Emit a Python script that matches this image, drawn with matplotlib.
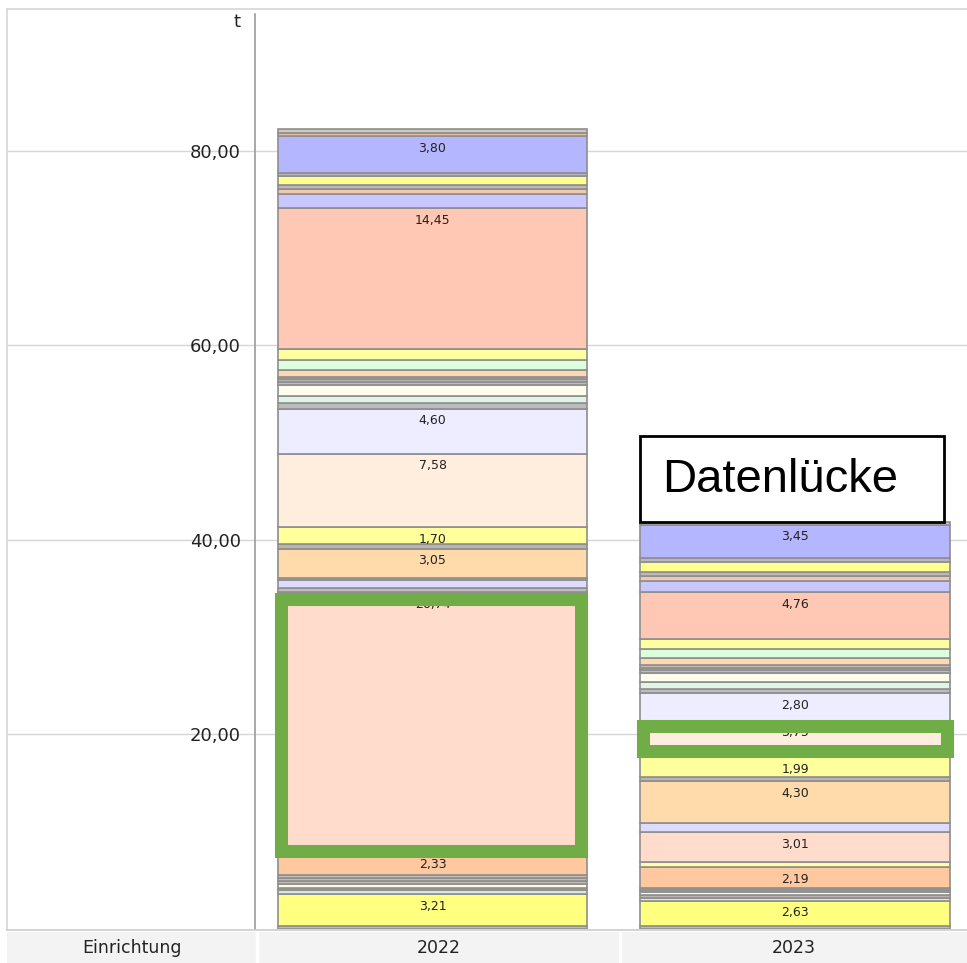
import matplotlib
matplotlib.use('Agg')
import matplotlib.pyplot as plt
from matplotlib.patches import Rectangle
from matplotlib.lines import Line2D
import numpy as np

# ---------------- data ----------------
years = ['2022', '2023']
row_header = 'Einrichtung'
unit_label = 't'
yticks = [20, 40, 60, 80]

# stacked segments, bottom -> top, same series order in both years
seg_colors = [
    '#cdb8a8', '#ffff80', '#d4eadc', '#bdb6b0', '#fffbe2', '#c4bcb4', '#bcbcbc', '#c8c0b8',
    '#ffc89e', '#ffffa8', '#ffdccc', '#c0bcc8', '#dcdcff', '#b8b8c0', '#ffdaaa', '#b8b4b0',
    '#ffff9c', '#ffeedd', '#ededff', '#bcbcbc', '#e0f4e8', '#fffdee', '#c0bcb8', '#b4b4b4',
    '#c4bcb4', '#ffd8b0', '#dcffdc', '#ffffa0', '#ffc8b4', '#c8c8ff', '#f0c8b0', '#c0b8b8',
    '#ffff90', '#b8b8c0', '#b4b6ff', '#e8c0a8', '#d0c8c0',
]
v2022 = [
    0.35, 3.21, 0.45, 0.25, 0.40, 0.30, 0.30, 0.30,
    2.33, 0.00, 26.74, 0.41, 0.82, 0.20, 3.05, 0.50,
    1.70, 7.58, 4.60, 0.60, 0.70, 1.17, 0.30, 0.25,
    0.25, 0.70, 1.05, 1.15, 14.45, 1.50, 0.45, 0.45,
    0.90, 0.30, 3.80, 0.35, 0.35,
]
v2023 = [
    0.30, 2.63, 0.30, 0.30, 0.30, 0.20, 0.15, 0.00,
    2.19, 0.55, 3.01, 0.00, 0.95, 0.00, 4.30, 0.50,
    1.99, 3.75, 2.80, 0.50, 0.70, 0.90, 0.30, 0.25,
    0.25, 0.70, 0.95, 1.10, 4.76, 1.13, 0.50, 0.43,
    1.03, 0.40, 3.45, 0.30, 0.00,
]
label_min = 1.6
# highlighted segments (year index, series index)
highlights = [(0, 10), (1, 17)]
gap_text = 'Datenlücke'

# ---------------- figure ----------------
W, H = 967, 963
fig = plt.figure(figsize=(W / 100, H / 100), dpi=100)

ax_left, ax_right, ax_top, ax_bot = 255, 967, 9, 929
ax = fig.add_axes([ax_left / W, (H - ax_bot) / H, (ax_right - ax_left) / W, (ax_bot - ax_top) / H])

bar_w = 0.853
xpos = np.arange(len(years))
ax.set_xlim(-0.4897, 1.4745)
ax.set_ylim(0, 94.6)

grid_c = '#d6d6d6'
ext = -(ax_left - 7) / (ax_right - ax_left)
for t in yticks:
    ax.axhline(t, xmin=ext, xmax=1, color=grid_c, lw=1, zorder=0, clip_on=False)
ax.axhline(94.6, xmin=ext, xmax=1, color=grid_c, lw=1.2, zorder=0, clip_on=False)

vals = [v2022, v2023]
bounds = {}
for yi, x in enumerate(xpos):
    cum = 0.0
    for si, (v, c) in enumerate(zip(vals[yi], seg_colors)):
        if v <= 0:
            continue
        ax.bar(x, v, bottom=cum, width=bar_w, color=c, edgecolor='#8e8e8e', linewidth=1.2, zorder=2)
        if v >= label_min:
            ax.annotate(f'{v:.2f}'.replace('.', ','), (x, cum + v), xytext=(0, -4),
                        textcoords='offset points', ha='center', va='top', fontsize=9,
                        color='#222222', zorder=3)
        bounds[(yi, si)] = (cum, cum + v)
        cum += v

# green highlight boxes
green = '#70ad47'
for yi, si in highlights:
    lo, hi = bounds[(yi, si)]
    if yi == 0:
        r = Rectangle((xpos[yi] - 0.005 - 0.414, lo + 0.18), 0.828, (hi - 0.65) - (lo + 0.18))
    else:
        r = Rectangle((xpos[yi] - 0.4205, lo + 0.68), 0.841, (hi - 0.50) - (lo + 0.68))
    r.set_fill(False)
    r.set_edgecolor(green)
    r.set_linewidth(9.4)
    r.set_joinstyle('miter')
    r.set_zorder(6)
    ax.add_patch(r)

# "Datenlücke" box
box = Rectangle((0.572, 41.85), 0.839, 8.84, facecolor='white', edgecolor='black', lw=2, zorder=7)
ax.add_patch(box)
ax.text(0.633, 46.2, gap_text, ha='left', va='center', fontsize=34,
        family='Liberation Sans', color='black', zorder=8)

# axes styling
ax.set_xticks([])
ax.set_yticks(yticks)
ax.set_yticklabels([f'{t:.2f}'.replace('.', ',') for t in yticks], fontsize=13, color='#222222')
ax.tick_params(axis='y', length=0, pad=10)
for s in ['right', 'bottom', 'top']:
    ax.spines[s].set_visible(False)
ax.spines['left'].set_color('#9a9a9a')
ax.spines['left'].set_linewidth(1.2)
ax.spines['left'].set_bounds(0, 94.1)

fig.text(237 / W, 1 - 22 / H, unit_label, ha='center', va='center', fontsize=13, color='#222222')

# outer borders
fig.add_artist(Line2D([7 / W, 7 / W], [1 - 9 / H, 1 - 930 / H], color=grid_c, lw=1.2))
fig.add_artist(Line2D([7 / W, 1], [1 - 930 / H, 1 - 930 / H], color='#cccccc', lw=1.2))

# category row
rax = fig.add_axes([7 / W, 0, (W - 7) / W, 31 / H])
rax.set_xlim(7, W)
rax.set_ylim(0, 31)
rax.axis('off')
rax.add_patch(Rectangle((7, 0), W - 7, 31, color='#f3f3f3', zorder=0))
for xs in [257, 620]:
    rax.plot([xs, xs], [0, 31], color='white', lw=2.5, zorder=1)
cells = [(row_header, (7 + 257) / 2), (years[0], (257 + 620) / 2), (years[1], (620 + W) / 2)]
for txt, cx in cells:
    rax.text(cx, 15, txt, ha='center', va='center', fontsize=12.5, color='#222222')

fig.savefig('out.png', dpi=100)
